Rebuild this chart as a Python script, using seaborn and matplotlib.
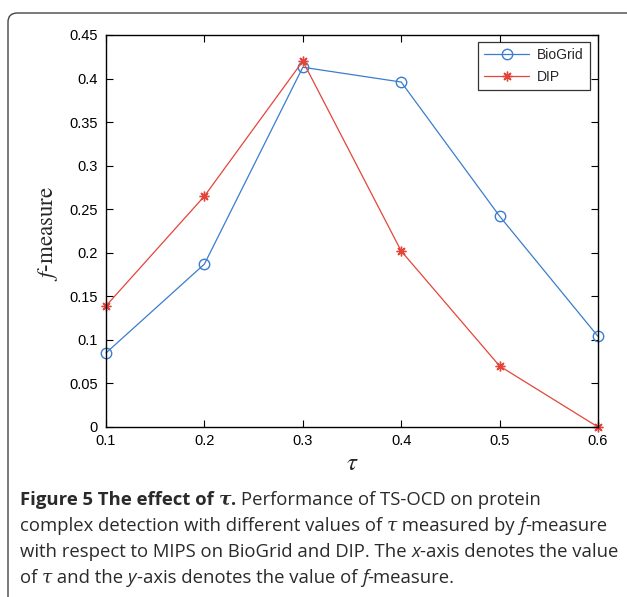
import matplotlib
matplotlib.use("Agg")
import matplotlib.pyplot as plt
import seaborn as sns
import pandas as pd
from matplotlib.patches import FancyBboxPatch

tau = [0.1, 0.2, 0.3, 0.4, 0.5, 0.6]
biogrid = [0.085, 0.187, 0.413, 0.396, 0.242, 0.104]
dip = [0.139, 0.265, 0.420, 0.202, 0.070, 0.0]
xticks = [0.1, 0.2, 0.3, 0.4, 0.5, 0.6]
yticks = [0, 0.05, 0.1, 0.15, 0.2, 0.25, 0.3, 0.35, 0.4, 0.45]
ytick_labels = ["0", "0.05", "0.1", "0.15", "0.2", "0.25", "0.3", "0.35", "0.4", "0.45"]

sns.set_theme(style="white")
plt.rcParams["font.family"] = ["Liberation Sans", "DejaVu Sans"]
plt.rcParams["mathtext.fontset"] = "stix"

blue = "#3b7dcc"
red = "#e4453a"

fig = plt.figure(figsize=(6.27, 5.97), dpi=100)
ax = fig.add_axes([106 / 627, 1 - 427 / 597, (598 - 106) / 627, (427 - 35) / 597])

df_b = pd.DataFrame({"tau": tau, "f": biogrid})
df_d = pd.DataFrame({"tau": tau, "f": dip})
sns.lineplot(data=df_b, x="tau", y="f", ax=ax, color=blue, lw=0.9, marker="o",
             markersize=7.5, markerfacecolor="none", markeredgecolor=blue,
             markeredgewidth=1.0, label="BioGrid", clip_on=False)
sns.lineplot(data=df_d, x="tau", y="f", ax=ax, color=red, lw=0.9, marker=(8, 2, 0),
             markersize=7, markerfacecolor=red, markeredgecolor=red,
             markeredgewidth=1.0, label="DIP", clip_on=False)

ax.set_xlim(0.1, 0.6)
ax.set_ylim(0, 0.45)
ax.set_xticks(xticks)
ax.set_xticklabels([f"{t:.1f}" for t in xticks])
ax.set_yticks(yticks)
ax.set_yticklabels(ytick_labels)
ax.tick_params(direction="in", length=5, width=0.8, labelsize=10.5, colors="black",
               top=True, right=True, bottom=True, left=True)
ax.tick_params(axis="y", pad=6)
ax.tick_params(axis="x", pad=5)
for s in ax.spines.values():
    s.set_visible(True)
    s.set_color("black")
    s.set_linewidth(1.0)

ax.set_xlabel(r"$\tau$", fontsize=18, labelpad=2)
ax.set_ylabel("")
fig.text(48 / 627, 1 - 233 / 597, r"$f\mathrm{\text{-}measure}$", rotation=90,
         fontsize=16.5, ha="center", va="center")

leg = ax.legend(loc="upper right", frameon=True, fancybox=False, fontsize=10,
                borderpad=0.45, handlelength=3.2, handletextpad=0.6, labelspacing=0.55,
                borderaxespad=0, bbox_to_anchor=((590 - 106) / 492, (427 - 42) / 392))
leg.get_frame().set_edgecolor("black")
leg.get_frame().set_linewidth(0.9)

# outer rounded frame
box = FancyBboxPatch((8 / 627, -0.2), 1.2, 1 - 13 / 597 + 0.2,
                     boxstyle="round,pad=0,rounding_size=0.015",
                     transform=fig.transFigure, fill=False,
                     edgecolor="#444444", lw=1.0, clip_on=False)
fig.patches.append(box)

# caption
cap_font = ["Open Sans", "DejaVu Sans"]
fs = 13.3
lines = [
    [("Figure 5 The effect of ", "bold", "normal"), ("τ", "bold", "italic"),
     (". ", "bold", "normal"), ("Performance of TS-OCD on protein", "normal", "normal")],
    [("complex detection with different values of ", "normal", "normal"), ("τ", "normal", "italic"),
     (" measured by ", "normal", "normal"), ("f", "normal", "italic"), ("-measure", "normal", "normal")],
    [("with respect to MIPS on BioGrid and DIP. The ", "normal", "normal"), ("x", "normal", "italic"),
     ("-axis denotes the value", "normal", "normal")],
    [("of ", "normal", "normal"), ("τ", "normal", "italic"), (" and the ", "normal", "normal"),
     ("y", "normal", "italic"), ("-axis denotes the value of ", "normal", "normal"),
     ("f", "normal", "italic"), ("-measure.", "normal", "normal")],
]
ys = [500, 526, 552, 578]
fig.canvas.draw()
renderer = fig.canvas.get_renderer()
for segs, yp in zip(lines, ys):
    x = 20
    for txt, w, st in segs:
        fam = cap_font
        if txt == "τ":
            fam = ["DejaVu Serif"]
        t = fig.text(x / 627, 1 - yp / 597, txt, fontsize=fs, fontweight=w, fontstyle=st,
                     family=fam, ha="left", va="center", color="#2a2a2a")
        bb = t.get_window_extent(renderer=renderer)
        x += bb.width

fig.savefig("out.png", dpi=100)
